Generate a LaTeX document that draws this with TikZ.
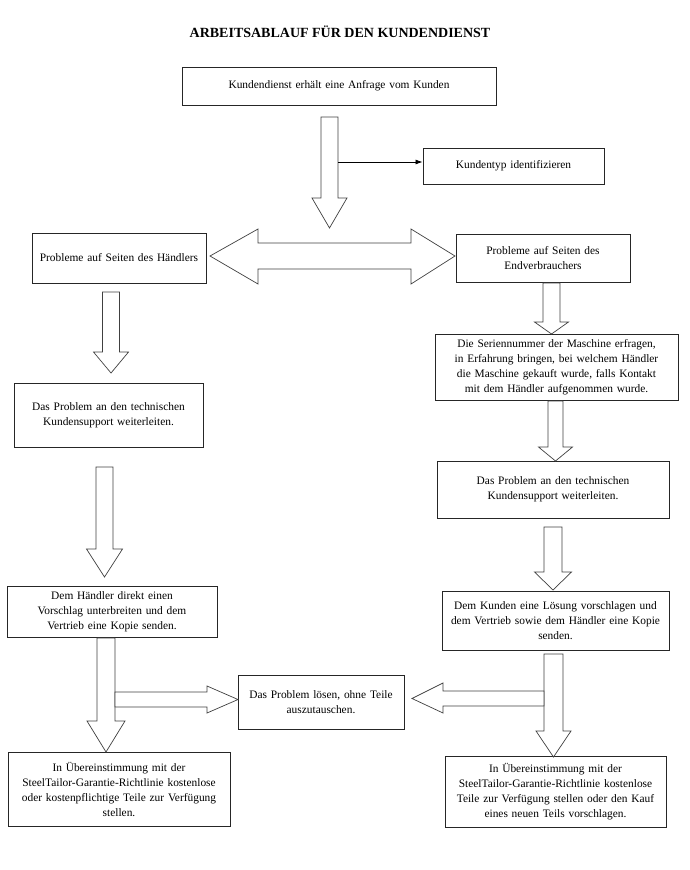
\documentclass[tikz,border=0pt]{standalone}
\usepackage{fontspec}
\setmainfont{Liberation Serif}
\usetikzlibrary{arrows.meta}
\tikzset{
  box/.style={draw=black!85, line width=0.9pt, fill=white, inner sep=0pt, align=center,
    font=\fontsize{11.4}{15}\selectfont},
  fat/.style={draw=black!75, line width=0.7pt, fill=white, line join=miter},
}
% x, shaft half, head half, top, head base, tip
\newcommand{\fatdown}[6]{%
  \draw[fat] (#1-#2,#4) -- (#1+#2,#4) -- (#1+#2,#5) -- (#1+#3,#5) -- (#1,#6)
    -- (#1-#3,#5) -- (#1-#2,#5) -- cycle;}
\begin{document}
\begin{tikzpicture}[x=1pt,y=-1pt]
\useasboundingbox (0,0) rectangle (690,870);

\node[font=\fontsize{14}{16}\selectfont\bfseries] (title) at (340,32) {ARBEITSABLAUF FÜR DEN KUNDENDIENST};

\node[box, text width=314pt, minimum height=38pt] (top) at (339,86) {Kundendienst erhält eine Anfrage vom Kunden};
\node[box, text width=181pt, minimum height=36pt] (kt) at (513.5,166) {Kundentyp identifizieren};
\node[box, text width=174pt, minimum height=50pt] (haendler) at (119,258) {Probleme auf Seiten des Händlers};
\node[box, text width=174pt, minimum height=48pt] (endv) at (543,258) {Probleme auf Seiten des\\Endverbrauchers};
\node[box, text width=189pt, minimum height=64pt] (l2) at (108.5,415) {Das Problem an den technischen\\Kundensupport weiterleiten.};
\node[box, text width=243pt, minimum height=66pt] (r2) at (556.5,367) {Die Seriennummer der Maschine erfragen,\\in Erfahrung bringen, bei welchem Händler\\die Maschine gekauft wurde, falls Kontakt\\mit dem Händler aufgenommen wurde.};
\node[box, text width=232pt, minimum height=57pt] (r3) at (553,489.5) {Das Problem an den technischen\\Kundensupport weiterleiten.};
\node[box, text width=210pt, minimum height=51pt] (l3) at (112,611.5) {Dem Händler direkt einen\\Vorschlag unterbreiten und dem\\Vertrieb eine Kopie senden.};
\node[box, text width=227pt, minimum height=59pt] (r4) at (555.5,620.5) {Dem Kunden eine Lösung vorschlagen und\\dem Vertrieb sowie dem Händler eine Kopie\\senden.};
\node[box, text width=166pt, minimum height=54pt] (mid) at (321,702) {Das Problem lösen, ohne Teile\\auszutauschen.};
\node[box, text width=222pt, minimum height=74pt] (l5) at (119,789) {In Übereinstimmung mit der\\SteelTailor-Garantie-Richtlinie kostenlose\\oder kostenpflichtige Teile zur Verfügung\\stellen.};
\node[box, text width=221pt, minimum height=71pt] (r5) at (555.5,791.5) {In Übereinstimmung mit der\\SteelTailor-Garantie-Richtlinie kostenlose\\Teile zur Verfügung stellen oder den Kauf\\eines neuen Teils vorschlagen.};

% top block arrow and thin arrow to "Kundentyp"
\fatdown{329.5}{8.5}{17.5}{117}{198}{228}
\coordinate (kstart) at (338,162);
\draw[-{Latex[length=7pt,width=5pt]}, line width=0.8pt] (kstart) -- (kstart -| kt.west);

% double arrow
\draw[fat] (210,256) -- (258,229) -- (258,243) -- (411,243) -- (411,229) -- (455,256)
  -- (411,284) -- (411,269) -- (258,269) -- (258,284) -- cycle;

% left column
\fatdown{111}{8.5}{17.5}{292}{352}{373}
\fatdown{104.5}{8.5}{18}{467}{549}{577}
\fatdown{106}{9}{19}{638}{721}{752}
\draw[fat] (115,692) -- (207,692) -- (207,686) -- (238,699.5) -- (207,713) -- (207,707) -- (115,707) -- cycle;

% right column
\fatdown{551.5}{8.5}{17}{283}{322}{334}
\fatdown{555.5}{7.5}{17}{401}{447}{461}
\fatdown{553}{9}{18.5}{527}{572}{590}
\fatdown{553.5}{9.5}{17.5}{654}{731}{757}
\draw[fat] (544,691) -- (544,706) -- (443,706) -- (443,713) -- (412,698.5) -- (443,683) -- (443,691) -- cycle;
\end{tikzpicture}
\end{document}
